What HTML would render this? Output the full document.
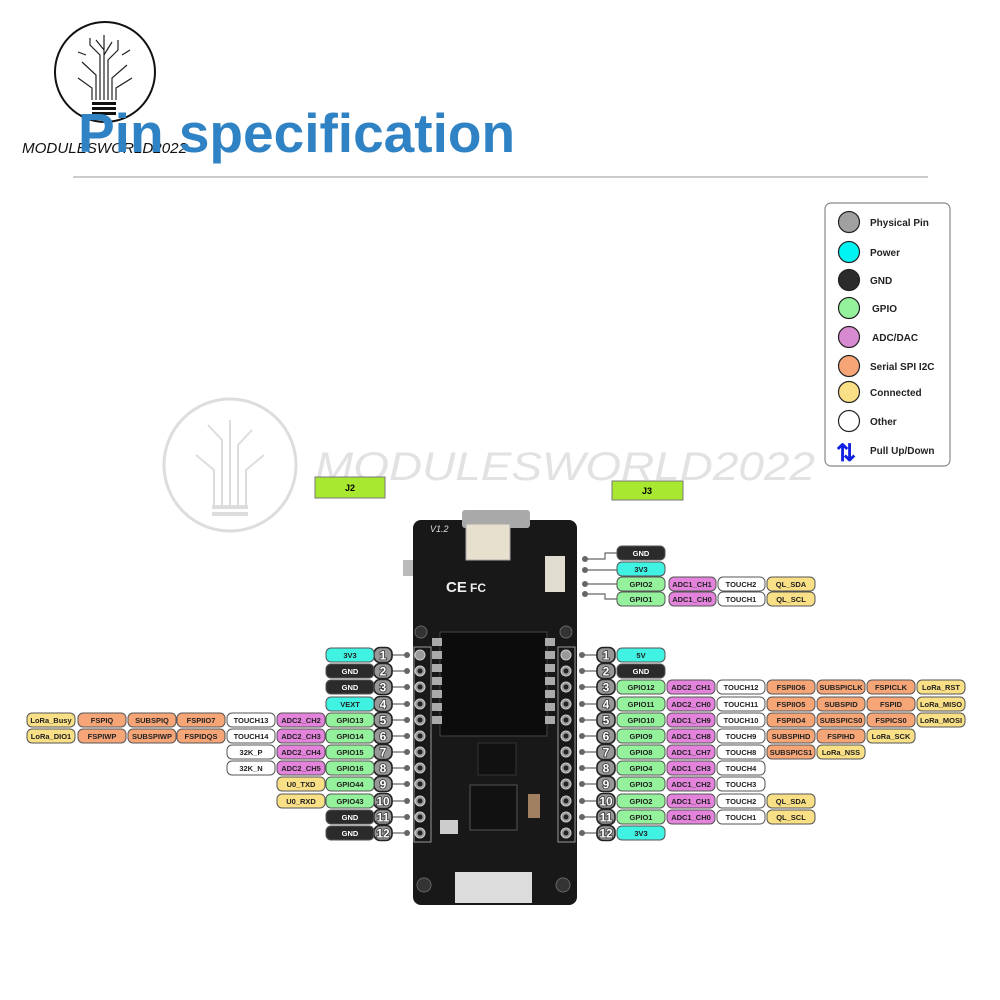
<!DOCTYPE html>
<html><head><meta charset="utf-8">
<style>
html,body{margin:0;padding:0;background:#fff;}
svg{display:block;font-family:"Liberation Sans",sans-serif;}
.b rect{stroke:#555;stroke-width:1;}
.b text{font-size:7.5px;font-weight:bold;text-anchor:middle;fill:#222;}
.g{fill:#93f29b}.c{fill:#3ff2e2}.k{fill:#2b2b2b}.p{fill:#e483dc}.o{fill:#f6a577}.y{fill:#f9df85}.w{fill:#fff}
text.kt{fill:#fff !important}
.n rect{fill:#979797;stroke:#222;stroke-width:1.6}
.n text{font-size:12px;font-weight:bold;text-anchor:middle;fill:#fff;stroke:#333;stroke-width:1.6;paint-order:stroke}
.lg text{font-size:10px;font-weight:bold;fill:#222}
</style></head><body>
<svg width="1000" height="1000" viewBox="0 0 1000 1000" xmlns="http://www.w3.org/2000/svg">
<!-- top logo -->
<circle cx="105" cy="72" r="50" fill="none" stroke="#111" stroke-width="2"/>
<g stroke="#222" stroke-width="1.2" fill="none">
<path d="M104 100 V35 M100 100 V55 L90 45 V38 M108 100 V60 L118 50 V40 M96 100 V75 L82 62 M112 100 V78 L127 65 M92 100 V88 L78 78 M116 100 V88 L132 78 M104 50 L96 40 M104 55 L112 42 M86 55 L78 52 M122 55 L130 50"/>
</g>
<rect x="92" y="102" width="24" height="3" fill="#111"/><rect x="92" y="107" width="24" height="3" fill="#111"/><rect x="92" y="112" width="24" height="3" fill="#111"/>
<text x="22" y="153" font-size="15" font-style="italic" fill="#111" textLength="165" lengthAdjust="spacingAndGlyphs">MODULESWORLD2022</text>
<text x="78" y="152" font-size="55" font-weight="bold" fill="#2f83c4">Pin specification</text>
<line x1="73" y1="177" x2="928" y2="177" stroke="#bbb" stroke-width="1.5"/>

<!-- watermark -->
<circle cx="230" cy="465" r="66" fill="none" stroke="#ddd" stroke-width="3"/>
<g stroke="#ddd" stroke-width="2" fill="none"><path d="M230 505 V420 M222 505 V440 L208 425 M238 505 V445 L252 430 M214 505 V470 L196 455 M246 505 V470 L264 455"/></g>
<rect x="212" y="505" width="36" height="4" fill="#ddd"/><rect x="212" y="512" width="36" height="4" fill="#ddd"/>
<text x="315" y="480" font-size="40" font-style="italic" fill="#e2e2e2" textLength="500" lengthAdjust="spacingAndGlyphs">MODULESWORLD2022</text>

<!-- legend -->
<rect x="825" y="203" width="125" height="263" rx="6" fill="#fff" stroke="#888" stroke-width="1.2"/>
<g class="lg" stroke="#222" stroke-width="1.2">
<circle cx="849" cy="222" r="10.5" fill="#a0a0a0"/><circle cx="849" cy="252" r="10.5" fill="#00f4f4"/><circle cx="849" cy="280" r="10.5" fill="#2b2b2b"/><circle cx="849" cy="308" r="10.5" fill="#93f29b"/><circle cx="849" cy="337" r="10.5" fill="#d88ad0"/><circle cx="849" cy="366" r="10.5" fill="#f6a577"/><circle cx="849" cy="392" r="10.5" fill="#f9df85"/><circle cx="849" cy="421" r="10.5" fill="#fff"/>
</g>
<g class="lg">
<text x="870" y="226">Physical Pin</text><text x="870" y="256">Power</text><text x="870" y="284">GND</text><text x="872" y="312">GPIO</text><text x="872" y="341">ADC/DAC</text><text x="870" y="370">Serial SPI I2C</text><text x="870" y="396">Connected</text><text x="870" y="425">Other</text><text x="870" y="454">Pull Up/Down</text>
</g>
<text x="836" y="461" font-size="24" font-weight="bold" fill="#1020e0">⇅</text>

<!-- J labels -->
<rect x="315" y="477" width="70" height="21" fill="#a8e830" stroke="#777"/><text x="350" y="491" font-size="9" font-weight="bold" text-anchor="middle">J2</text>
<rect x="612" y="481" width="71" height="19" fill="#a8e830" stroke="#777"/><text x="647" y="494" font-size="9" font-weight="bold" text-anchor="middle">J3</text>

<!-- board -->
<rect x="403" y="560" width="12" height="16" fill="#bbb"/>
<rect x="413" y="520" width="164" height="385" rx="8" fill="#181818"/>
<rect x="462" y="510" width="68" height="18" rx="3" fill="#a9a9a9"/>
<rect x="466" y="524" width="44" height="36" fill="#e8e0cf" stroke="#aaa"/>
<rect x="545" y="556" width="20" height="36" fill="#e0dcd0"/>
<text x="430" y="532" font-size="9" font-style="italic" fill="#ddd">V1.2</text>
<text x="446" y="592" font-size="15" font-weight="bold" fill="#eee">CE</text>
<text x="470" y="592" font-size="12" font-weight="bold" fill="#eee">FC</text>
<g fill="#0c0c0c" stroke="#444"><rect x="440" y="632" width="107" height="104"/></g>
<g fill="#aaa">
<rect x="432" y="638" width="10" height="8"/><rect x="432" y="651" width="10" height="8"/><rect x="432" y="664" width="10" height="8"/><rect x="432" y="677" width="10" height="8"/><rect x="432" y="690" width="10" height="8"/><rect x="432" y="703" width="10" height="8"/><rect x="432" y="716" width="10" height="8"/>
<rect x="545" y="638" width="10" height="8"/><rect x="545" y="651" width="10" height="8"/><rect x="545" y="664" width="10" height="8"/><rect x="545" y="677" width="10" height="8"/><rect x="545" y="690" width="10" height="8"/><rect x="545" y="703" width="10" height="8"/><rect x="545" y="716" width="10" height="8"/>
</g>
<rect x="478" y="743" width="38" height="32" fill="#111" stroke="#333"/>
<rect x="470" y="785" width="47" height="45" fill="#111" stroke="#555"/>
<rect x="528" y="794" width="12" height="24" fill="#a08060"/>
<rect x="440" y="820" width="18" height="14" fill="#ccc"/>
<rect x="455" y="872" width="77" height="31" fill="#dcdcdc"/>
<g fill="#333" stroke="#666"><circle cx="421" cy="632" r="6"/><circle cx="566" cy="632" r="6"/><circle cx="424" cy="885" r="7"/><circle cx="563" cy="885" r="7"/></g>
<rect x="414" y="647" width="17" height="195" fill="none" stroke="#999"/>
<rect x="558" y="647" width="17" height="195" fill="none" stroke="#999"/>
<g fill="#9a9a9a" stroke="#ccc" stroke-width="1">
<circle cx="420" cy="655" r="5"/><circle cx="420" cy="671" r="5"/><circle cx="420" cy="687" r="5"/><circle cx="420" cy="704" r="5"/><circle cx="420" cy="720" r="5"/><circle cx="420" cy="736" r="5"/><circle cx="420" cy="752" r="5"/><circle cx="420" cy="768" r="5"/><circle cx="420" cy="784" r="5"/><circle cx="420" cy="801" r="5"/><circle cx="420" cy="817" r="5"/><circle cx="420" cy="833" r="5"/>
<circle cx="566" cy="655" r="5"/><circle cx="566" cy="671" r="5"/><circle cx="566" cy="687" r="5"/><circle cx="566" cy="704" r="5"/><circle cx="566" cy="720" r="5"/><circle cx="566" cy="736" r="5"/><circle cx="566" cy="752" r="5"/><circle cx="566" cy="768" r="5"/><circle cx="566" cy="784" r="5"/><circle cx="566" cy="801" r="5"/><circle cx="566" cy="817" r="5"/><circle cx="566" cy="833" r="5"/>
</g>
<g fill="#222"><circle cx="420" cy="671" r="2.5"/><circle cx="420" cy="687" r="2.5"/><circle cx="420" cy="704" r="2.5"/><circle cx="420" cy="720" r="2.5"/><circle cx="420" cy="736" r="2.5"/><circle cx="420" cy="752" r="2.5"/><circle cx="420" cy="768" r="2.5"/><circle cx="420" cy="784" r="2.5"/><circle cx="420" cy="801" r="2.5"/><circle cx="420" cy="817" r="2.5"/><circle cx="420" cy="833" r="2.5"/>
<circle cx="566" cy="671" r="2.5"/><circle cx="566" cy="687" r="2.5"/><circle cx="566" cy="704" r="2.5"/><circle cx="566" cy="720" r="2.5"/><circle cx="566" cy="736" r="2.5"/><circle cx="566" cy="752" r="2.5"/><circle cx="566" cy="768" r="2.5"/><circle cx="566" cy="784" r="2.5"/><circle cx="566" cy="801" r="2.5"/><circle cx="566" cy="817" r="2.5"/><circle cx="566" cy="833" r="2.5"/></g>

<!-- connector lines -->
<g stroke="#666" stroke-width="1.2" fill="none">
<path d="M392 655H407M392 671H407M392 687H407M392 704H407M392 720H407M392 736H407M392 752H407M392 768H407M392 784H407M392 801H407M392 817H407M392 833H407"/>
<path d="M582 655H597M582 671H597M582 687H597M582 704H597M582 720H597M582 736H597M582 752H597M582 768H597M582 784H597M582 801H597M582 817H597M582 833H597"/>
<path d="M585 559H605V553H617M585 570H617M585 584H617M585 594H605V599H617"/>
</g>
<g fill="#666">
<circle cx="407" cy="655" r="3"/><circle cx="407" cy="671" r="3"/><circle cx="407" cy="687" r="3"/><circle cx="407" cy="704" r="3"/><circle cx="407" cy="720" r="3"/><circle cx="407" cy="736" r="3"/><circle cx="407" cy="752" r="3"/><circle cx="407" cy="768" r="3"/><circle cx="407" cy="784" r="3"/><circle cx="407" cy="801" r="3"/><circle cx="407" cy="817" r="3"/><circle cx="407" cy="833" r="3"/>
<circle cx="582" cy="655" r="3"/><circle cx="582" cy="671" r="3"/><circle cx="582" cy="687" r="3"/><circle cx="582" cy="704" r="3"/><circle cx="582" cy="720" r="3"/><circle cx="582" cy="736" r="3"/><circle cx="582" cy="752" r="3"/><circle cx="582" cy="768" r="3"/><circle cx="582" cy="784" r="3"/><circle cx="582" cy="801" r="3"/><circle cx="582" cy="817" r="3"/><circle cx="582" cy="833" r="3"/>
<circle cx="585" cy="559" r="3"/><circle cx="585" cy="570" r="3"/><circle cx="585" cy="584" r="3"/><circle cx="585" cy="594" r="3"/>
</g>

<!-- number badges -->
<g class="n">
<g transform="translate(383,655)"><rect x="-9" y="-7.5" width="18" height="15" rx="6"/><text y="4.5">1</text></g>
<g transform="translate(383,671)"><rect x="-9" y="-7.5" width="18" height="15" rx="6"/><text y="4.5">2</text></g>
<g transform="translate(383,687)"><rect x="-9" y="-7.5" width="18" height="15" rx="6"/><text y="4.5">3</text></g>
<g transform="translate(383,704)"><rect x="-9" y="-7.5" width="18" height="15" rx="6"/><text y="4.5">4</text></g>
<g transform="translate(383,720)"><rect x="-9" y="-7.5" width="18" height="15" rx="6"/><text y="4.5">5</text></g>
<g transform="translate(383,736)"><rect x="-9" y="-7.5" width="18" height="15" rx="6"/><text y="4.5">6</text></g>
<g transform="translate(383,752)"><rect x="-9" y="-7.5" width="18" height="15" rx="6"/><text y="4.5">7</text></g>
<g transform="translate(383,768)"><rect x="-9" y="-7.5" width="18" height="15" rx="6"/><text y="4.5">8</text></g>
<g transform="translate(383,784)"><rect x="-9" y="-7.5" width="18" height="15" rx="6"/><text y="4.5">9</text></g>
<g transform="translate(383,801)"><rect x="-9" y="-7.5" width="18" height="15" rx="6"/><text y="4.5">10</text></g>
<g transform="translate(383,817)"><rect x="-9" y="-7.5" width="18" height="15" rx="6"/><text y="4.5">11</text></g>
<g transform="translate(383,833)"><rect x="-9" y="-7.5" width="18" height="15" rx="6"/><text y="4.5">12</text></g>
<g transform="translate(606,655)"><rect x="-9" y="-7.5" width="18" height="15" rx="6"/><text y="4.5">1</text></g>
<g transform="translate(606,671)"><rect x="-9" y="-7.5" width="18" height="15" rx="6"/><text y="4.5">2</text></g>
<g transform="translate(606,687)"><rect x="-9" y="-7.5" width="18" height="15" rx="6"/><text y="4.5">3</text></g>
<g transform="translate(606,704)"><rect x="-9" y="-7.5" width="18" height="15" rx="6"/><text y="4.5">4</text></g>
<g transform="translate(606,720)"><rect x="-9" y="-7.5" width="18" height="15" rx="6"/><text y="4.5">5</text></g>
<g transform="translate(606,736)"><rect x="-9" y="-7.5" width="18" height="15" rx="6"/><text y="4.5">6</text></g>
<g transform="translate(606,752)"><rect x="-9" y="-7.5" width="18" height="15" rx="6"/><text y="4.5">7</text></g>
<g transform="translate(606,768)"><rect x="-9" y="-7.5" width="18" height="15" rx="6"/><text y="4.5">8</text></g>
<g transform="translate(606,784)"><rect x="-9" y="-7.5" width="18" height="15" rx="6"/><text y="4.5">9</text></g>
<g transform="translate(606,801)"><rect x="-9" y="-7.5" width="18" height="15" rx="6"/><text y="4.5">10</text></g>
<g transform="translate(606,817)"><rect x="-9" y="-7.5" width="18" height="15" rx="6"/><text y="4.5">11</text></g>
<g transform="translate(606,833)"><rect x="-9" y="-7.5" width="18" height="15" rx="6"/><text y="4.5">12</text></g>
</g>

<!-- LEFT labels -->
<g class="b">
<g transform="translate(0,655)"><rect x="326" y="-7" width="48" height="14" rx="5" class="c"/><text x="350" y="3">3V3</text></g>
<g transform="translate(0,671)"><rect x="326" y="-7" width="48" height="14" rx="5" class="k"/><text x="350" y="3" class="kt">GND</text></g>
<g transform="translate(0,687)"><rect x="326" y="-7" width="48" height="14" rx="5" class="k"/><text x="350" y="3" class="kt">GND</text></g>
<g transform="translate(0,704)"><rect x="326" y="-7" width="48" height="14" rx="5" class="c"/><text x="350" y="3">VEXT</text></g>
<g transform="translate(0,720)">
<rect x="326" y="-7" width="48" height="14" rx="5" class="g"/><text x="350" y="3">GPIO13</text>
<rect x="277" y="-7" width="48" height="14" rx="5" class="p"/><text x="301" y="3">ADC2_CH2</text>
<rect x="227" y="-7" width="48" height="14" rx="5" class="w"/><text x="251" y="3">TOUCH13</text>
<rect x="177" y="-7" width="48" height="14" rx="5" class="o"/><text x="201" y="3">FSPIIO7</text>
<rect x="128" y="-7" width="48" height="14" rx="5" class="o"/><text x="152" y="3">SUBSPIQ</text>
<rect x="78" y="-7" width="48" height="14" rx="5" class="o"/><text x="102" y="3">FSPIQ</text>
<rect x="27" y="-7" width="48" height="14" rx="5" class="y"/><text x="51" y="3">LoRa_Busy</text></g>
<g transform="translate(0,736)">
<rect x="326" y="-7" width="48" height="14" rx="5" class="g"/><text x="350" y="3">GPIO14</text>
<rect x="277" y="-7" width="48" height="14" rx="5" class="p"/><text x="301" y="3">ADC2_CH3</text>
<rect x="227" y="-7" width="48" height="14" rx="5" class="w"/><text x="251" y="3">TOUCH14</text>
<rect x="177" y="-7" width="48" height="14" rx="5" class="o"/><text x="201" y="3">FSPIDQS</text>
<rect x="128" y="-7" width="48" height="14" rx="5" class="o"/><text x="152" y="3">SUBSPIWP</text>
<rect x="78" y="-7" width="48" height="14" rx="5" class="o"/><text x="102" y="3">FSPIWP</text>
<rect x="27" y="-7" width="48" height="14" rx="5" class="y"/><text x="51" y="3">LoRa_DIO1</text></g>
<g transform="translate(0,752)">
<rect x="326" y="-7" width="48" height="14" rx="5" class="g"/><text x="350" y="3">GPIO15</text>
<rect x="277" y="-7" width="48" height="14" rx="5" class="p"/><text x="301" y="3">ADC2_CH4</text>
<rect x="227" y="-7" width="48" height="14" rx="5" class="w"/><text x="251" y="3">32K_P</text></g>
<g transform="translate(0,768)">
<rect x="326" y="-7" width="48" height="14" rx="5" class="g"/><text x="350" y="3">GPIO16</text>
<rect x="277" y="-7" width="48" height="14" rx="5" class="p"/><text x="301" y="3">ADC2_CH5</text>
<rect x="227" y="-7" width="48" height="14" rx="5" class="w"/><text x="251" y="3">32K_N</text></g>
<g transform="translate(0,784)">
<rect x="326" y="-7" width="48" height="14" rx="5" class="g"/><text x="350" y="3">GPIO44</text>
<rect x="277" y="-7" width="48" height="14" rx="5" class="y"/><text x="301" y="3">U0_TXD</text></g>
<g transform="translate(0,801)">
<rect x="326" y="-7" width="48" height="14" rx="5" class="g"/><text x="350" y="3">GPIO43</text>
<rect x="277" y="-7" width="48" height="14" rx="5" class="y"/><text x="301" y="3">U0_RXD</text></g>
<g transform="translate(0,817)"><rect x="326" y="-7" width="48" height="14" rx="5" class="k"/><text x="350" y="3" class="kt">GND</text></g>
<g transform="translate(0,833)"><rect x="326" y="-7" width="48" height="14" rx="5" class="k"/><text x="350" y="3" class="kt">GND</text></g>

<!-- RIGHT labels -->
<g transform="translate(0,655)"><rect x="617" y="-7" width="48" height="14" rx="5" class="c"/><text x="641" y="3">5V</text></g>
<g transform="translate(0,671)"><rect x="617" y="-7" width="48" height="14" rx="5" class="k"/><text x="641" y="3" class="kt">GND</text></g>
<g transform="translate(0,687)">
<rect x="617" y="-7" width="48" height="14" rx="5" class="g"/><text x="641" y="3">GPIO12</text>
<rect x="667" y="-7" width="48" height="14" rx="5" class="p"/><text x="691" y="3">ADC2_CH1</text>
<rect x="717" y="-7" width="48" height="14" rx="5" class="w"/><text x="741" y="3">TOUCH12</text>
<rect x="767" y="-7" width="48" height="14" rx="5" class="o"/><text x="791" y="3">FSPIIO6</text>
<rect x="817" y="-7" width="48" height="14" rx="5" class="o"/><text x="841" y="3">SUBSPICLK</text>
<rect x="867" y="-7" width="48" height="14" rx="5" class="o"/><text x="891" y="3">FSPICLK</text>
<rect x="917" y="-7" width="48" height="14" rx="5" class="y"/><text x="941" y="3">LoRa_RST</text></g>
<g transform="translate(0,704)">
<rect x="617" y="-7" width="48" height="14" rx="5" class="g"/><text x="641" y="3">GPIO11</text>
<rect x="667" y="-7" width="48" height="14" rx="5" class="p"/><text x="691" y="3">ADC2_CH0</text>
<rect x="717" y="-7" width="48" height="14" rx="5" class="w"/><text x="741" y="3">TOUCH11</text>
<rect x="767" y="-7" width="48" height="14" rx="5" class="o"/><text x="791" y="3">FSPIIO5</text>
<rect x="817" y="-7" width="48" height="14" rx="5" class="o"/><text x="841" y="3">SUBSPID</text>
<rect x="867" y="-7" width="48" height="14" rx="5" class="o"/><text x="891" y="3">FSPID</text>
<rect x="917" y="-7" width="48" height="14" rx="5" class="y"/><text x="941" y="3">LoRa_MISO</text></g>
<g transform="translate(0,720)">
<rect x="617" y="-7" width="48" height="14" rx="5" class="g"/><text x="641" y="3">GPIO10</text>
<rect x="667" y="-7" width="48" height="14" rx="5" class="p"/><text x="691" y="3">ADC1_CH9</text>
<rect x="717" y="-7" width="48" height="14" rx="5" class="w"/><text x="741" y="3">TOUCH10</text>
<rect x="767" y="-7" width="48" height="14" rx="5" class="o"/><text x="791" y="3">FSPIIO4</text>
<rect x="817" y="-7" width="48" height="14" rx="5" class="o"/><text x="841" y="3">SUBSPICS0</text>
<rect x="867" y="-7" width="48" height="14" rx="5" class="o"/><text x="891" y="3">FSPICS0</text>
<rect x="917" y="-7" width="48" height="14" rx="5" class="y"/><text x="941" y="3">LoRa_MOSI</text></g>
<g transform="translate(0,736)">
<rect x="617" y="-7" width="48" height="14" rx="5" class="g"/><text x="641" y="3">GPIO9</text>
<rect x="667" y="-7" width="48" height="14" rx="5" class="p"/><text x="691" y="3">ADC1_CH8</text>
<rect x="717" y="-7" width="48" height="14" rx="5" class="w"/><text x="741" y="3">TOUCH9</text>
<rect x="767" y="-7" width="48" height="14" rx="5" class="o"/><text x="791" y="3">SUBSPIHD</text>
<rect x="817" y="-7" width="48" height="14" rx="5" class="o"/><text x="841" y="3">FSPIHD</text>
<rect x="867" y="-7" width="48" height="14" rx="5" class="y"/><text x="891" y="3">LoRa_SCK</text></g>
<g transform="translate(0,752)">
<rect x="617" y="-7" width="48" height="14" rx="5" class="g"/><text x="641" y="3">GPIO8</text>
<rect x="667" y="-7" width="48" height="14" rx="5" class="p"/><text x="691" y="3">ADC1_CH7</text>
<rect x="717" y="-7" width="48" height="14" rx="5" class="w"/><text x="741" y="3">TOUCH8</text>
<rect x="767" y="-7" width="48" height="14" rx="5" class="o"/><text x="791" y="3">SUBSPICS1</text>
<rect x="817" y="-7" width="48" height="14" rx="5" class="y"/><text x="841" y="3">LoRa_NSS</text></g>
<g transform="translate(0,768)">
<rect x="617" y="-7" width="48" height="14" rx="5" class="g"/><text x="641" y="3">GPIO4</text>
<rect x="667" y="-7" width="48" height="14" rx="5" class="p"/><text x="691" y="3">ADC1_CH3</text>
<rect x="717" y="-7" width="48" height="14" rx="5" class="w"/><text x="741" y="3">TOUCH4</text></g>
<g transform="translate(0,784)">
<rect x="617" y="-7" width="48" height="14" rx="5" class="g"/><text x="641" y="3">GPIO3</text>
<rect x="667" y="-7" width="48" height="14" rx="5" class="p"/><text x="691" y="3">ADC1_CH2</text>
<rect x="717" y="-7" width="48" height="14" rx="5" class="w"/><text x="741" y="3">TOUCH3</text></g>
<g transform="translate(0,801)">
<rect x="617" y="-7" width="48" height="14" rx="5" class="g"/><text x="641" y="3">GPIO2</text>
<rect x="667" y="-7" width="48" height="14" rx="5" class="p"/><text x="691" y="3">ADC1_CH1</text>
<rect x="717" y="-7" width="48" height="14" rx="5" class="w"/><text x="741" y="3">TOUCH2</text>
<rect x="767" y="-7" width="48" height="14" rx="5" class="y"/><text x="791" y="3">QL_SDA</text></g>
<g transform="translate(0,817)">
<rect x="617" y="-7" width="48" height="14" rx="5" class="g"/><text x="641" y="3">GPIO1</text>
<rect x="667" y="-7" width="48" height="14" rx="5" class="p"/><text x="691" y="3">ADC1_CH0</text>
<rect x="717" y="-7" width="48" height="14" rx="5" class="w"/><text x="741" y="3">TOUCH1</text>
<rect x="767" y="-7" width="48" height="14" rx="5" class="y"/><text x="791" y="3">QL_SCL</text></g>
<g transform="translate(0,833)"><rect x="617" y="-7" width="48" height="14" rx="5" class="c"/><text x="641" y="3">3V3</text></g>

<!-- top right connector -->
<g transform="translate(0,553)"><rect x="617" y="-7" width="48" height="14" rx="5" class="k"/><text x="641" y="3" class="kt">GND</text></g>
<g transform="translate(0,569)"><rect x="617" y="-7" width="48" height="14" rx="5" class="c"/><text x="641" y="3">3V3</text></g>
<g transform="translate(0,584)">
<rect x="617" y="-7" width="48" height="14" rx="5" class="g"/><text x="641" y="3">GPIO2</text>
<rect x="669" y="-7" width="47" height="14" rx="5" class="p"/><text x="692" y="3">ADC1_CH1</text>
<rect x="718" y="-7" width="47" height="14" rx="5" class="w"/><text x="741" y="3">TOUCH2</text>
<rect x="767" y="-7" width="48" height="14" rx="5" class="y"/><text x="791" y="3">QL_SDA</text></g>
<g transform="translate(0,599)">
<rect x="617" y="-7" width="48" height="14" rx="5" class="g"/><text x="641" y="3">GPIO1</text>
<rect x="669" y="-7" width="47" height="14" rx="5" class="p"/><text x="692" y="3">ADC1_CH0</text>
<rect x="718" y="-7" width="47" height="14" rx="5" class="w"/><text x="741" y="3">TOUCH1</text>
<rect x="767" y="-7" width="48" height="14" rx="5" class="y"/><text x="791" y="3">QL_SCL</text></g>
</g>
</svg>
</body></html>
